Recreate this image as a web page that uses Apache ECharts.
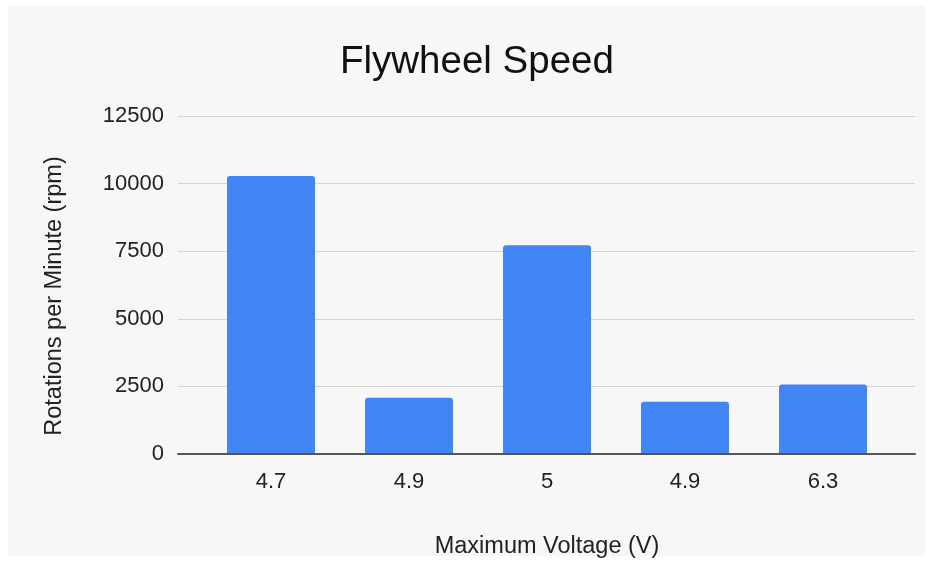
<!DOCTYPE html>
<html>
<head>
<meta charset="utf-8">
<script src="https://cdn.jsdelivr.net/npm/echarts@6/dist/echarts.min.js"></script>
<style>
  html, body { margin: 0; padding: 0; background: #ffffff; }
  #chart { width: 931px; height: 562px; }
</style>
</head>
<body>
<div id="chart"></div>
<script>
// Flywheel speed measured at each maximum voltage setting
const voltageLabels = ['4.7', '4.9', '5', '4.9', '6.3'];
const rpmValues = [10280, 2080, 7720, 1930, 2570];
const yTicks = { min: 0, max: 12500, interval: 2500 };

const FONT = '"Liberation Sans", Arial, sans-serif';
const TEXT = '#222222';

const chart = echarts.init(document.getElementById('chart'), null, { renderer: 'canvas' });

const plotTop = 116;
const plotBottom = 108;

chart.setOption({
  animation: false,
  backgroundColor: '#ffffff',
  graphic: [{
    type: 'rect',
    z: -10,
    shape: { x: 8, y: 6, width: 917, height: 550 },
    style: { fill: '#f7f7f7' },
    silent: true
  }],
  title: {
    text: 'Flywheel Speed',
    left: 335,
    top: 38,
    textStyle: { fontFamily: FONT, fontSize: 38.5, fontWeight: 'normal', color: '#111111' }
  },
  grid: [
    // wide grid: gridlines, y labels and the baseline
    { left: 178, right: 16, top: plotTop, bottom: plotBottom, outerBoundsMode: 'none' },
    // inner grid: the bars
    { left: 202, right: 39, top: plotTop, bottom: plotBottom, outerBoundsMode: 'none' }
  ],
  xAxis: [
    {
      type: 'category',
      gridIndex: 0,
      data: [''],
      z: 5,
      axisLine: { show: true, lineStyle: { color: '#555555', width: 2 } },
      axisTick: { show: false },
      axisLabel: { show: false },
      splitLine: { show: false }
    },
    {
      type: 'category',
      gridIndex: 1,
      data: voltageLabels,
      axisLine: { show: false },
      axisTick: { show: false },
      axisLabel: { fontFamily: FONT, fontSize: 22, color: TEXT, margin: 17 },
      name: 'Maximum Voltage (V)',
      nameLocation: 'middle',
      nameGap: 81,
      nameTextStyle: { fontFamily: FONT, fontSize: 23.5, color: TEXT }
    }
  ],
  yAxis: [
    {
      type: 'value',
      gridIndex: 0,
      min: yTicks.min,
      max: yTicks.max,
      interval: yTicks.interval,
      axisLine: { show: false },
      axisTick: { show: false },
      axisLabel: {
        fontFamily: FONT, fontSize: 22, color: TEXT, margin: 14,
        formatter: (v) => String(v)
      },
      splitLine: { lineStyle: { color: '#d4d4d4', width: 1 } },
      name: 'Rotations per Minute (rpm)',
      nameLocation: 'middle',
      nameGap: 111,
      nameTextStyle: { fontFamily: FONT, fontSize: 23.5, color: TEXT, padding: [0, 22, 0, 0] }
    },
    {
      type: 'value',
      gridIndex: 1,
      min: yTicks.min,
      max: yTicks.max,
      interval: yTicks.interval,
      show: false
    }
  ],
  series: [{
    type: 'bar',
    xAxisIndex: 1,
    yAxisIndex: 1,
    data: rpmValues,
    barWidth: 88,
    itemStyle: { color: '#4285f4', borderRadius: [3, 3, 0, 0] }
  }]
});
</script>
</body>
</html>
